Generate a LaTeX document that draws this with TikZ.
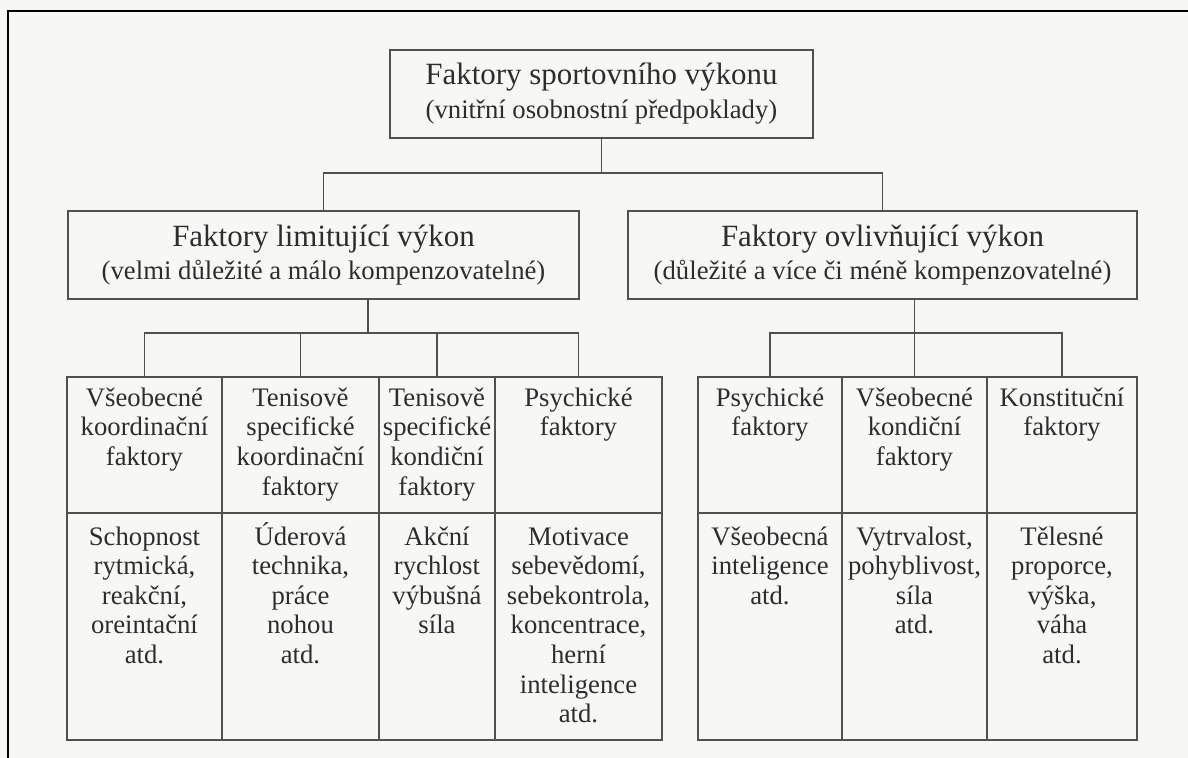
\documentclass[tikz,border=0pt]{standalone}
\usepackage{fontspec}
\setmainfont{Liberation Serif}
\usepackage{xcolor}
\usepackage{tikz}
\usetikzlibrary{positioning,calc}
\definecolor{lineclr}{RGB}{80,80,80}
\definecolor{textclr}{RGB}{45,45,45}
\definecolor{paperclr}{RGB}{247,247,246}
\newcommand{\headsz}{\fontsize{22}{24}\selectfont}
\newcommand{\subsz}{\fontsize{19}{24}\selectfont}
\newcommand{\cstrut}{\rule{0pt}{18pt}}

\begin{document}
\begin{tikzpicture}[x=0.25mm, y=-0.25mm,
  box/.style={draw=lineclr, line width=1.1pt, align=center, text=textclr, inner sep=0pt,
    minimum height=22mm, font=\headsz},
  cell/.style={draw=lineclr, line width=1.1pt, inner sep=0pt},
  celltext/.style={align=center, text=textclr, inner sep=0pt, anchor=north,
    font=\fontsize{19}{21}\selectfont},
  link/.style={draw=lineclr, line width=1.1pt}]

% Paper and page frame
\useasboundingbox (0,0) rectangle (1188,758);
\fill[paperclr] (0,0) rectangle (1188,758);
\draw[black, line width=1.8pt] (8,758) -- (8,11) -- (1188,11);

% Top level
\node[box, minimum width=105.75mm] (top) at (601.5,94)
  {Faktory sportovního výkonu\\\subsz (vnitřní osobnostní předpoklady)};

% Second level
\node[box, minimum width=127.75mm] (lmid) at (323.5,255)
  {Faktory limitující výkon\\\subsz (velmi důležité a málo kompenzovatelné)};
\node[box, minimum width=127.25mm] (rmid) at (882.5,255)
  {Faktory ovlivňující výkon\\\subsz (důležité a více či méně kompenzovatelné)};

% Factor columns: name/centre x/width(mm)/head/body
\foreach \n/\cx/\w/\hd/\bd in {
  la/144.5/38.75/{Všeobecné\\koordinační\\faktory}/{Schopnost\\rytmická,\\reakční,\\oreintační\\atd.},
  lb/300.5/39.25/{Tenisově\\specifické\\koordinační\\faktory}/{Úderová\\technika,\\práce\\nohou\\atd.},
  lc/437/29/{Tenisově\\specifické\\kondiční\\faktory}/{Akční\\rychlost\\výbušná\\síla},
  ld/578.5/41.75/{Psychické\\faktory}/{Motivace\\sebevědomí,\\sebekontrola,\\koncentrace,\\herní\\inteligence\\atd.},
  ra/770/36/{Psychické\\faktory}/{Všeobecná\\inteligence\\atd.},
  rb/914.5/36.25/{Všeobecné\\kondiční\\faktory}/{Vytrvalost,\\pohyblivost,\\síla\\atd.},
  rc/1062/37.5/{Konstituční\\faktory}/{Tělesné\\proporce,\\výška,\\váha\\atd.}}{
  \node[cell, minimum width=\w mm, minimum height=34mm] (\n) at (\cx,445) {};
  \node[cell, minimum width=\w mm, minimum height=56.75mm] (\n-b) at (\cx,626.5) {};
  \node[celltext] (\n-ht) at ([yshift=-3.3pt]\n.north) {\cstrut\hd};
  \node[celltext] (\n-bt) at ([yshift=-5.4pt]\n-b.north) {\cstrut\bd};
}

% Connectors
\coordinate (bar1) at (0,173);
\coordinate (bar2) at (0,333);
\coordinate (lstem) at (368,299);
\draw[link] (top.south) -- (top.south |- bar1);
\draw[link] (lmid.north) |- (bar1 -| rmid.north) -- (rmid.north);

\draw[link] (lstem) -- (lstem |- bar2);
\draw[link] (la.north) |- (bar2 -| ld.north) -- (ld.north);
\draw[link] (lb.north) -- (lb.north |- bar2);
\draw[link] (lc.north) -- (lc.north |- bar2);

\draw[link] (rmid.south -| rb.north) -- (rb.north);
\draw[link] (ra.north) |- (bar2 -| rc.north) -- (rc.north);

\end{tikzpicture}
\end{document}
